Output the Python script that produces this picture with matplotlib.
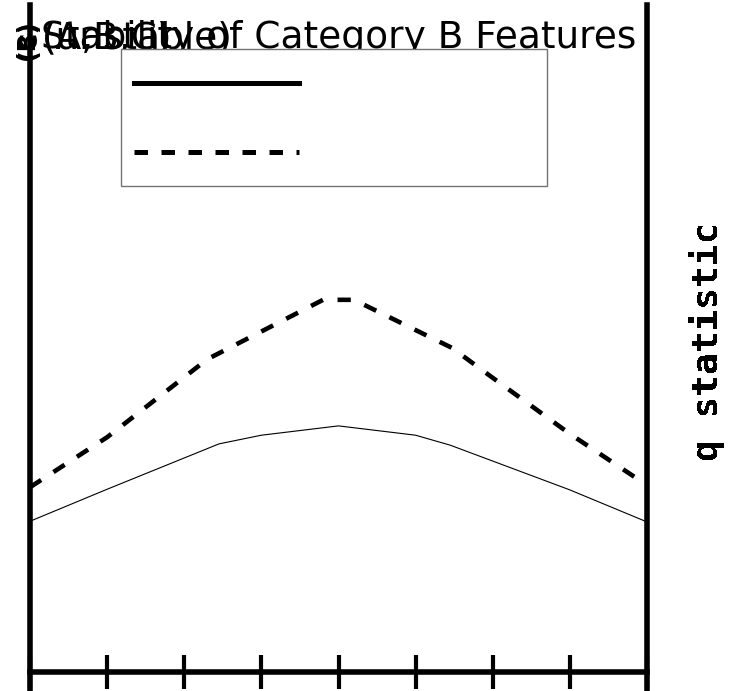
import matplotlib
matplotlib.use('Agg')
import matplotlib.pyplot as plt
from matplotlib.lines import Line2D
import numpy as np

# (x in tick units, y as q statistic)
x_solid = [0, 1, 2.45, 3, 4, 5, 5.45, 7, 8]
y_solid = [0.226, 0.274, 0.342, 0.355, 0.369, 0.355, 0.340, 0.273, 0.225]
x_dash = [0, 1, 2.3, 3.8, 4.2, 5.47, 6, 7, 8]
y_dash = [0.277, 0.352, 0.469, 0.558, 0.558, 0.486, 0.441, 0.357, 0.280]
xticks = [0, 1, 2, 3, 4, 5, 6, 7, 8]
title = 'Stability of Category B Features'
ylabel = 'q statistic'
overlap_texts = ['(A,B,C)', '(unstable)']
blob_texts = ['(B)', '(C)']

fig = plt.figure(figsize=(7.48, 6.91), dpi=100)
ax = fig.add_axes([30/748, 0, 617/748, 686/691])

ax.plot(x_solid, y_solid, color='black', linewidth=0.8)
ax.plot(x_dash, y_dash, color='black', linewidth=3.3, linestyle=(0, (2.9, 3.2)))

ax.set_xlim(0, 8)
ax.set_ylim(-19/667, 1.0)
ax.set_xticks(xticks)
ax.set_xticklabels([])
ax.set_yticks([])

for s in ['left', 'right', 'bottom']:
    ax.spines[s].set_linewidth(4)
ax.spines['top'].set_visible(False)
ax.spines['bottom'].set_position(('data', 0))
ax.tick_params(axis='x', direction='inout', length=25, width=3)

ax.set_title(title, fontsize=27, y=0.937, pad=0)
for t in overlap_texts:
    ax.text(0.019, 0.937, t, transform=ax.transAxes, fontsize=27, va='baseline')
for i, t in enumerate(blob_texts):
    ax.text(-0.005 + 0.004 * i, 0.949, t, transform=ax.transAxes, fontsize=17,
            fontweight='bold', rotation=90, ha='center', va='center')

ax.yaxis.set_label_position('right')
ax.set_ylabel(ylabel, family='DejaVu Sans Mono', fontsize=26, fontweight='bold',
              antialiased=False)
ax.yaxis.set_label_coords(1.068, 0.509)

# legend: handles only, rows sized through the legend font size
handles = [Line2D([], [], color='black', linewidth=3.6),
           Line2D([], [], color='black', linewidth=3.6, linestyle=(0, (2.7, 2.7)))]
leg = ax.legend(handles, ['', ''], loc='upper left', mode='expand',
                bbox_to_anchor=(0.1475, 0.0, 0.6905, 0.936), borderaxespad=0,
                fontsize=43.2, borderpad=0.2167, handleheight=0.7, labelspacing=0.45,
                handlelength=2.75, handletextpad=0.1, fancybox=False, framealpha=1)
for t in leg.get_texts():
    t.set_fontsize(1)
leg.get_frame().set_edgecolor('0.45')
leg.get_frame().set_linewidth(1.0)

fig.savefig('out.png', dpi=100)
